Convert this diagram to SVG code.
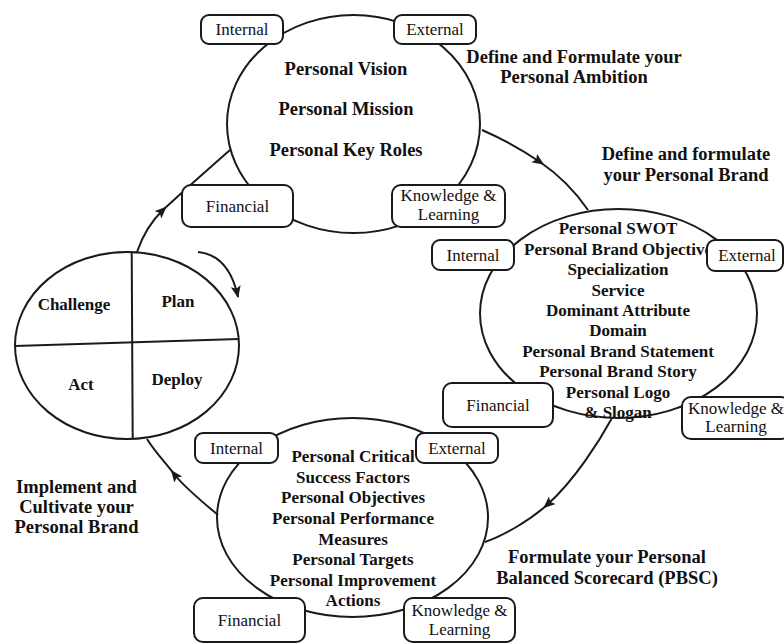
<svg xmlns="http://www.w3.org/2000/svg" width="784" height="644" viewBox="0 0 784 644">
<style>
.c{fill:none;stroke:#1a1a1a;stroke-width:2}
.box{fill:#fff;stroke:#1a1a1a;stroke-width:2}
.conn{fill:none;stroke:#1a1a1a;stroke-width:2}
text{font-family:"Liberation Serif","Times New Roman",serif;fill:#111;text-anchor:middle}
.b{font-weight:bold;font-size:17px}
.bt{font-weight:bold;font-size:18.5px}
.lb{font-weight:bold;font-size:18.5px}
.bx{font-size:17px}
</style>
<defs>
<marker id="ah" markerUnits="userSpaceOnUse" markerWidth="14" markerHeight="12" refX="7" refY="5" orient="auto">
<path d="M0,0 L12,5 L0,10 L2.5,5 z" fill="#1a1a1a"/>
</marker>
<marker id="ahe" markerUnits="userSpaceOnUse" markerWidth="14" markerHeight="12" refX="11" refY="5" orient="auto">
<path d="M0,0 L12,5 L0,10 L2.5,5 z" fill="#1a1a1a"/>
</marker>
</defs>
<rect width="784" height="644" fill="#fff"/>

<g id="connectors">
<path class="conn" marker-mid="url(#ah)" d="M137,252 Q146,226 163,210 T230,150"/>
<path class="conn" marker-end="url(#ahe)" d="M198,252 Q229,255 238,297"/>
<path class="conn" marker-mid="url(#ah)" d="M482,130 Q512,143 540,162 T588,210"/>
<path class="conn" marker-mid="url(#ah)" d="M612,418 C600,440 575,480 547,505 C530,520 505,535 485,542"/>
<path class="conn" marker-mid="url(#ah)" d="M218,515 C205,504 185,488 174,474 C165,462 155,452 147,439"/>
</g>

<g id="ambition">
<ellipse class="c" cx="353.5" cy="124" rx="126.5" ry="109"/>
<text class="bt" x="346" y="75">Personal Vision</text>
<text class="bt" x="346" y="115">Personal Mission</text>
<text class="bt" x="346" y="156">Personal Key Roles</text>
</g>

<g id="brand">
<ellipse class="c" cx="618.5" cy="313.5" rx="138.5" ry="104.5"/>
<text class="b" x="618" y="234">Personal SWOT</text>
<text class="b" x="618" y="254.5">Personal Brand Objective</text>
<text class="b" x="618" y="275">Specialization</text>
<text class="b" x="618" y="295.5">Service</text>
<text class="b" x="618" y="316">Dominant Attribute</text>
<text class="b" x="618" y="336">Domain</text>
<text class="b" x="618" y="356.5">Personal Brand Statement</text>
<text class="b" x="618" y="377">Personal Brand Story</text>
<text class="b" x="618" y="397.5">Personal Logo</text>
<text class="b" x="618" y="418">&amp; Slogan</text>
</g>

<g id="pbsc">
<ellipse class="c" cx="352.5" cy="517.5" rx="135.5" ry="99.5"/>
<text class="b" x="353" y="462">Personal Critical</text>
<text class="b" x="353" y="482.5">Success Factors</text>
<text class="b" x="353" y="503">Personal Objectives</text>
<text class="b" x="353" y="523.5">Personal Performance</text>
<text class="b" x="353" y="544.5">Measures</text>
<text class="b" x="353" y="565">Personal Targets</text>
<text class="b" x="353" y="585.5">Personal Improvement</text>
<text class="b" x="353" y="606">Actions</text>
</g>

<g id="pdca">
<ellipse class="c" cx="127" cy="345.5" rx="112" ry="93.5"/>
<line class="c" x1="131.7" y1="252" x2="132.7" y2="439"/>
<line class="c" x1="15" y1="346" x2="239" y2="339"/>
<text class="b" x="74" y="310">Challenge</text>
<text class="b" x="178" y="307">Plan</text>
<text class="b" x="81" y="390">Act</text>
<text class="b" x="177" y="385">Deploy</text>
</g>

<g id="top-internal"><rect class="box" x="201" y="15" width="82" height="29" rx="8"/><text class="bx" x="242" y="35">Internal</text></g>
<g id="top-external"><rect class="box" x="394" y="15" width="82" height="29" rx="8"/><text class="bx" x="435" y="35">External</text></g>
<g id="top-financial"><rect class="box" x="182" y="185" width="111" height="42" rx="9"/><text class="bx" x="237.5" y="212">Financial</text></g>
<g id="top-knowledge"><rect class="box" x="392" y="185" width="113" height="42" rx="9"/><text class="bx" x="448.5" y="201">Knowledge &amp;</text><text class="bx" x="448.5" y="220">Learning</text></g>

<g id="right-internal"><rect class="box" x="432" y="240" width="82" height="30" rx="8"/><text class="bx" x="473" y="261">Internal</text></g>
<g id="right-external"><rect class="box" x="707" y="240" width="76" height="31" rx="8"/><text class="bx" x="747" y="261">External</text></g>
<g id="right-financial"><rect class="box" x="443" y="383" width="110" height="44" rx="9"/><text class="bx" x="498" y="411">Financial</text></g>
<g id="right-knowledge"><rect class="box" x="682" y="397" width="108" height="42" rx="9"/><text class="bx" x="736" y="414">Knowledge &amp;</text><text class="bx" x="736" y="432">Learning</text></g>

<g id="bottom-internal"><rect class="box" x="195" y="433" width="83" height="30" rx="8"/><text class="bx" x="236.5" y="454">Internal</text></g>
<g id="bottom-external"><rect class="box" x="416" y="433" width="82" height="30" rx="8"/><text class="bx" x="457" y="454">External</text></g>
<g id="bottom-financial"><rect class="box" x="194" y="598" width="111" height="44" rx="9"/><text class="bx" x="249.5" y="626">Financial</text></g>
<g id="bottom-knowledge"><rect class="box" x="404" y="598" width="111" height="44" rx="9"/><text class="bx" x="459.5" y="616">Knowledge &amp;</text><text class="bx" x="459.5" y="635">Learning</text></g>

<g id="labels">
<text class="lb" x="574" y="63">Define and Formulate your</text>
<text class="lb" x="574" y="83">Personal Ambition</text>
<text class="lb" x="686" y="160">Define and formulate</text>
<text class="lb" x="686" y="180.5">your Personal Brand</text>
<text class="lb" x="76.5" y="493">Implement and</text>
<text class="lb" x="76.5" y="513">Cultivate your</text>
<text class="lb" x="76.5" y="533">Personal Brand</text>
<text class="lb" x="607" y="563">Formulate your Personal</text>
<text class="lb" x="607" y="584">Balanced Scorecard (PBSC)</text>
</g>
</svg>
